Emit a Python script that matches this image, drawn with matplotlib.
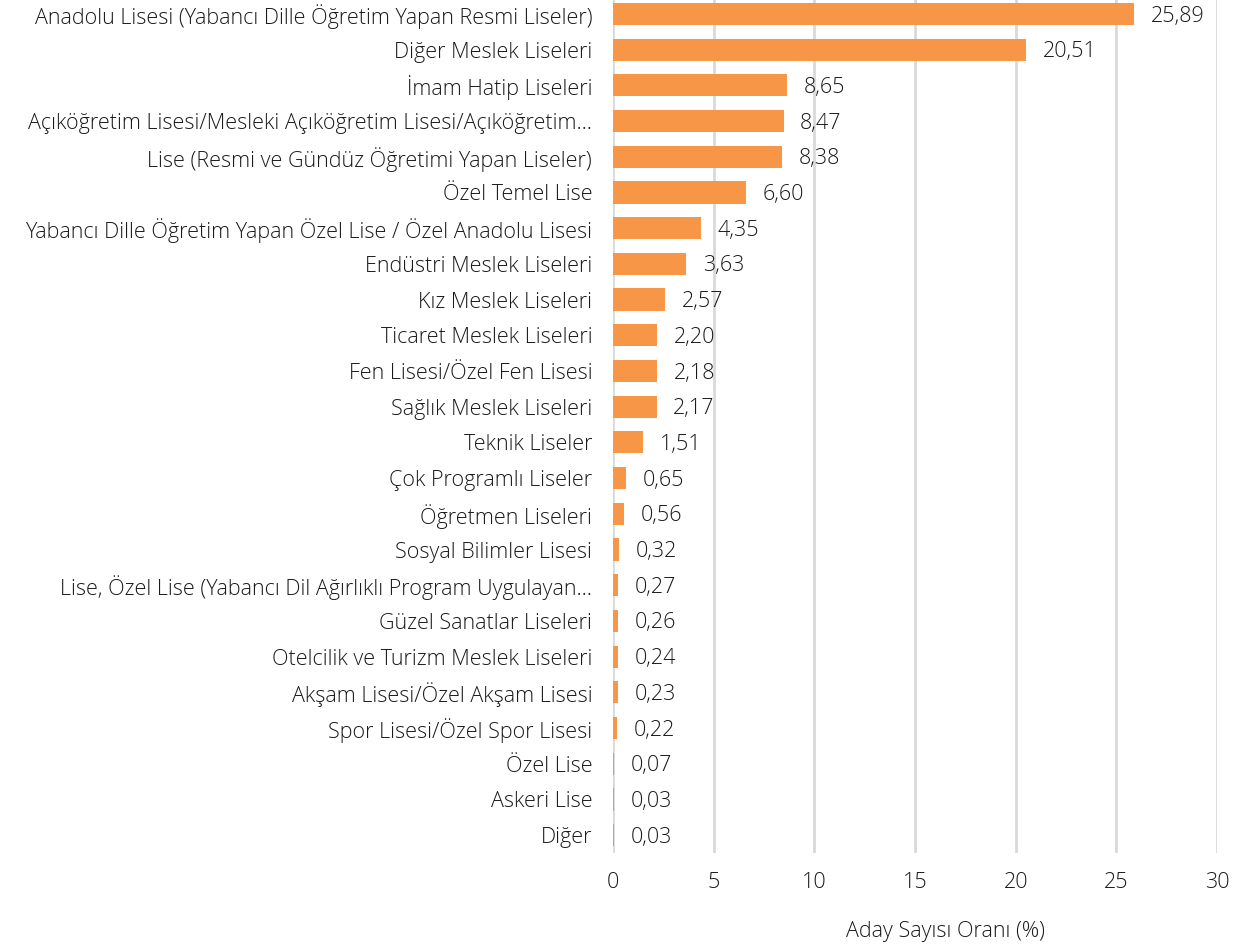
import matplotlib

matplotlib.use("Agg")
import matplotlib.pyplot as plt
import numpy as np

plt.rcParams["font.family"] = ["Open Sans", "DejaVu Sans"]
plt.rcParams["font.weight"] = "light"

categories = [
    "Anadolu Lisesi (Yabancı Dille Öğretim Yapan Resmi Liseler)",
    "Diğer Meslek Liseleri",
    "İmam Hatip Liseleri",
    "Açıköğretim Lisesi/Mesleki Açıköğretim Lisesi/Açıköğretim…",
    "Lise (Resmi ve Gündüz Öğretimi Yapan Liseler)",
    "Özel Temel Lise",
    "Yabancı Dille Öğretim Yapan Özel Lise / Özel Anadolu Lisesi",
    "Endüstri Meslek Liseleri",
    "Kız Meslek Liseleri",
    "Ticaret Meslek Liseleri",
    "Fen Lisesi/Özel Fen Lisesi",
    "Sağlık Meslek Liseleri",
    "Teknik Liseler",
    "Çok Programlı Liseler",
    "Öğretmen Liseleri",
    "Sosyal Bilimler Lisesi",
    "Lise, Özel Lise (Yabancı Dil Ağırlıklı Program Uygulayan…",
    "Güzel Sanatlar Liseleri",
    "Otelcilik ve Turizm Meslek Liseleri",
    "Akşam Lisesi/Özel Akşam Lisesi",
    "Spor Lisesi/Özel Spor Lisesi",
    "Özel Lise",
    "Askeri Lise",
    "Diğer",
]
values = [25.89, 20.51, 8.65, 8.47, 8.38, 6.60, 4.35, 3.63, 2.57, 2.20, 2.18,
          2.17, 1.51, 0.65, 0.56, 0.32, 0.27, 0.26, 0.24, 0.23, 0.22, 0.07,
          0.03, 0.03]
x_ticks = [0, 5, 10, 15, 20, 25, 30]

fig = plt.figure(figsize=(12.46, 9.49), dpi=100)
ax = fig.add_axes([613 / 1246, 96 / 949, 604 / 1246, 853 / 949])

y = np.arange(len(categories))
ax.barh(y, values, height=0.62, color="#F79646", zorder=3)
for yi, v in zip(y, values):
    ax.annotate(f"{v:.2f}".replace(".", ","), (v, yi), xytext=(12, -1.5),
                textcoords="offset points", va="center", ha="left",
                fontsize=15.5, color="#1a1a1a")

ax.set_xlim(0, 30)
ax.set_ylim(23.5, -0.39)
ax.set_yticks(y)
ax.set_yticklabels(categories, fontsize=15.5, color="#1a1a1a")
ax.set_xticks(x_ticks)
ax.set_xticklabels([str(t) for t in x_ticks], fontsize=15.5, color="#1a1a1a")
ax.tick_params(axis="y", length=0, pad=15)
ax.tick_params(axis="x", length=0, pad=14)
ax.grid(axis="x", color="#d9d9d9", linewidth=2, zorder=0)
for s in ax.spines.values():
    s.set_visible(False)

fig.text(945 / 1246, 1 - 932 / 949, "Aday Sayısı Oranı (%)", ha="center",
         va="center", fontsize=15.5, color="#1a1a1a")

fig.savefig("out.png", dpi=100)
